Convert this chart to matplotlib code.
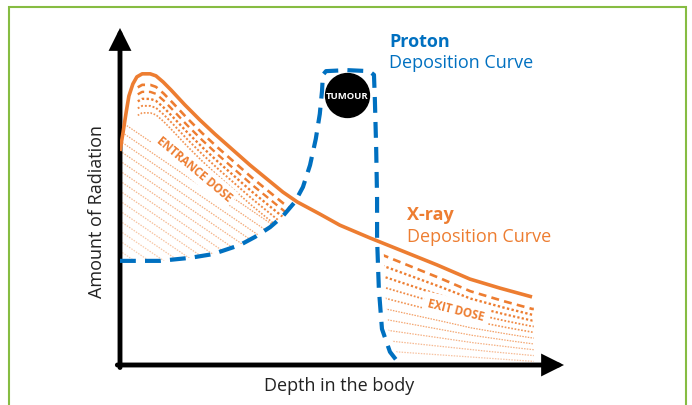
import numpy as np
import matplotlib
matplotlib.use('Agg')
import matplotlib.pyplot as plt
from matplotlib.patches import Polygon, Rectangle

plt.rcParams['font.family'] = ['Open Sans', 'DejaVu Sans']

ORANGE = '#ED7D31'
BLUE = '#0070C0'

# x-ray deposition curve (depth, amount) in arbitrary 0-100 units
xray_depth = [0.0, 0.7, 1.4, 2.0, 2.9, 3.8, 5.0, 6.8, 8.1, 9.7, 11.5, 14.6, 18.0,
              21.4, 29.3, 36.7, 39.9, 45.0, 49.5, 56.3, 63.1, 71.4, 78.8, 85.6, 92.8]
xray_amount = [63.5, 69.1, 75.1, 79.8, 83.4, 85.5, 86.4, 86.4, 85.8, 84.0, 81.6, 77.2, 72.7,
               68.5, 59.3, 51.3, 48.4, 44.8, 41.5, 37.7, 34.1, 29.7, 25.5, 22.8, 20.2]

# proton deposition curve
proton_depth = [0.0, 9.0, 15.8, 20.9, 27.0, 30.4, 33.8, 36.7, 39.4, 41.2, 42.8, 44.1, 45.0,
                45.5, 45.7, 46.4, 51.1, 56.1, 57.2, 57.4, 57.7, 57.9, 57.9, 58.3, 59.0, 60.8, 63.1]
proton_amount = [30.9, 30.9, 31.8, 32.9, 35.6, 38.0, 40.9, 44.2, 48.4, 52.8, 59.3, 67.1, 74.5,
                 81.3, 86.1, 87.2, 87.5, 87.2, 86.1, 78.9, 64.1, 49.3, 37.4, 22.6, 10.7, 3.9, 0.0]

tumour_depth, tumour_amount = 51.1, 80.1

fig = plt.figure(figsize=(6.92, 4.06), dpi=100)
ax = fig.add_axes([120 / 692, 40 / 406, 444 / 692, 337 / 406])
ax.set_xlim(0, 100)
ax.set_ylim(0, 100)
ax.axis('off')

# green frame
fig.patches.append(Rectangle((9 / 692, -0.1), 677 / 692, 1.08, transform=fig.transFigure,
                             fill=False, ec='#86bc42', lw=1.5))

px_y = 3.37  # px per amount unit

# ---- entrance dose hatching
xc = 39.6
xs = np.linspace(0, xc, 300)
top = np.interp(xs, xray_depth, xray_amount)
bot = np.interp(xs, proton_depth[:16], proton_amount[:16])
ent = Polygon(np.column_stack([np.r_[xs, xs[::-1]], np.r_[top, bot[::-1]]]),
              fc='none', ec='none')
ax.add_patch(ent)

band = [(11, (0, (3, 2)), 1.9, ORANGE),
        (18, (0, (3, 2)), 1.7, ORANGE),
        (25, (0, (1, 1)), 1.7, ORANGE),
        (32, (0, (1, 1)), 1.4, '#F08A45'),
        (39, (0, (1, 1)), 1.2, '#F19555')]
xb = np.linspace(4.0, xc, 300)
for off, ls, lw, c in band:
    yb = np.interp(xb, xray_depth, xray_amount) - off / px_y
    ln, = ax.plot(xb, yb, ls=ls, lw=lw, color=c, zorder=2)
    ln.set_clip_path(ent)

slope = -0.68 * 4.44 / px_y
xd = np.array([0, xc])
for i, c0 in enumerate(range(122, 262, 10)):
    y0 = (366 - c0) / px_y
    frac = i / 13
    col = matplotlib.colors.to_rgb(ORANGE)
    col = tuple(a + (1 - a) * (0.3 + 0.35 * frac) for a in col)
    ln, = ax.plot(xd, y0 + slope * xd, ls=(0, (1.2, 1)), lw=0.9, color=col, zorder=2)
    ln.set_clip_path(ent)

ax.text(16.7, 58.2, 'ENTRANCE DOSE', rotation=-40, color=ORANGE, fontsize=8.3,
        fontweight='bold', ha='center', va='center', zorder=3,
        bbox=dict(fc='white', ec='none', pad=2.5))

# ---- exit dose hatching
bx = [57.9, 57.9, 58.3, 59.0, 60.8, 63.1]
by = [49.3, 37.4, 22.6, 10.7, 3.9, 0.0]
ext = Polygon([(x + 1.4, y) for x, y in zip(bx, by)] + [(63.1 + 1.4, -1), (100, -1), (100, 60)],
              fc='none', ec='none')
ax.add_patch(ext)

xe = np.linspace(56, 93.2, 300)
upper = np.interp(xe, xray_depth, xray_amount) - 12 / px_y
lower = np.interp(xe, [59, 94], [4.2, 1.0])
exit_styles = [((0, (3, 2)), 1.9, ORANGE),
               ((0, (1, 1)), 1.7, ORANGE),
               ((0, (1, 1)), 1.6, ORANGE),
               ((0, (1, 1)), 1.3, '#F08A45'),
               ((0, (1, 1)), 1.2, '#F19555'),
               ((0, (1.2, 1)), 0.9, '#F3A067'),
               ((0, (1.2, 1)), 0.9, '#F4A874'),
               ((0, (1.2, 1)), 0.9, '#F5B184'),
               ((0, (1.2, 1)), 0.9, '#F6BA93'),
               ((0, (1.2, 1)), 0.9, '#F7C4A3')]
for t, (ls, lw, c) in zip(np.linspace(0, 1, len(exit_styles)), exit_styles):
    ln, = ax.plot(xe, upper + t * (lower - upper), ls=ls, lw=lw, color=c, zorder=2)
    ln.set_clip_path(ext)

ax.text(75.7, 16.3, 'EXIT DOSE', rotation=-14, color=ORANGE, fontsize=8.3,
        fontweight='bold', ha='center', va='center', zorder=3,
        bbox=dict(fc='white', ec='none', pad=3.5))

# ---- curves
ax.plot(xray_depth, xray_amount, color=ORANGE, lw=2.6, zorder=4,
        solid_capstyle='butt', solid_joinstyle='round')
ax.plot(proton_depth, proton_amount, color=BLUE, lw=3, ls=(0, (3.8, 2.2)), zorder=5)

ax.scatter([tumour_depth], [tumour_amount], s=1000, color='black', zorder=6)
ax.text(tumour_depth, tumour_amount, 'TUMOUR', color='white', fontsize=6.8,
        fontweight='bold', ha='center', va='center', zorder=7)

# ---- axes arrows
arrow = dict(arrowstyle='-|>', color='black', lw=3.5, mutation_scale=27,
             shrinkA=0, shrinkB=0, joinstyle='miter')
ax.annotate('', xy=(100, 0), xytext=(-0.6, 0), arrowprops=arrow, annotation_clip=False)
ax.annotate('', xy=(0, 100), xytext=(0, -0.75), arrowprops=arrow, annotation_clip=False)

ax.text(49.3, -5.9, 'Depth in the body', fontsize=13, color='#222222',
        ha='center', va='center', clip_on=False)
ax.text(-5.2, 45.7, 'Amount of Radiation', fontsize=13, color='#222222', rotation=90,
        ha='center', va='center', clip_on=False)

# ---- curve labels
ax.text(60.6, 94.7, 'Proton', fontsize=13, fontweight='bold', color=BLUE, va='baseline')
ax.text(60.6, 88.4, 'Deposition Curve', fontsize=13, color=BLUE, va='baseline')
ax.text(64.6, 43.3, 'X-ray', fontsize=13, fontweight='bold', color=ORANGE, va='baseline')
ax.text(64.6, 36.8, 'Deposition Curve', fontsize=13, color=ORANGE, va='baseline')

fig.savefig('out.png', dpi=100)
